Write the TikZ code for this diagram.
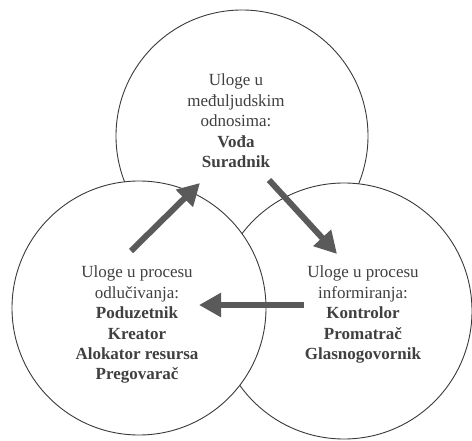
\documentclass[tikz,border=0pt]{standalone}
\usepackage{fontspec}
\setmainfont{Liberation Serif}
\usetikzlibrary{arrows.meta}
\definecolor{linegray}{HTML}{3A3A3A}
\definecolor{textgray}{HTML}{404040}
\definecolor{arrowgray}{HTML}{5A5A5A}
\tikzset{
  role/.style={draw=linegray, line width=0.9pt, fill=white, circle},
  rolelabel/.style={align=center, text=textgray, font=\fontsize{17}{20.4}\selectfont, inner sep=0pt},
  bigarrow/.style={draw=arrowgray, line width=6pt, -{Triangle[length=22pt,width=23pt]}, shorten >=0pt}
}
\begin{document}
\begin{tikzpicture}[x=1pt,y=-1pt]
\useasboundingbox (0,0) rectangle (472,441);
\fill[white] (0,0) rectangle (472,441);
\draw[role] (242,136) circle (126);
\draw[role] (344,311) circle (128);
\draw[role] (139,308) circle (127);
\node[rolelabel, anchor=north] (top) at (236,74) {Uloge u\\međuljudskim\\odnosima:\\\textbf{Vođa}\\\textbf{Suradnik}};
\node[rolelabel, anchor=north] (right) at (363,266) {Uloge u procesu\\informiranja:\\\textbf{Kontrolor}\\\textbf{Promatrač}\\\textbf{Glasnogovornik}};
\node[rolelabel, anchor=north] (left) at (137,266) {Uloge u procesu\\odlučivanja:\\\textbf{Poduzetnik}\\\textbf{Kreator}\\\textbf{Alokator resursa}\\\textbf{Pregovarač}};
\coordinate (a1s) at (131,251);
\coordinate (a1e) at (200,183);
\coordinate (a2s) at (269,180);
\coordinate (a2e) at (337,254);
\coordinate (a3s) at (304,305);
\coordinate (a3e) at (199,305);
\draw[bigarrow] (a1s) -- (a1e);
\draw[bigarrow] (a2s) -- (a2e);
\draw[bigarrow] (a3s) -- (a3e);
\end{tikzpicture}
\end{document}
